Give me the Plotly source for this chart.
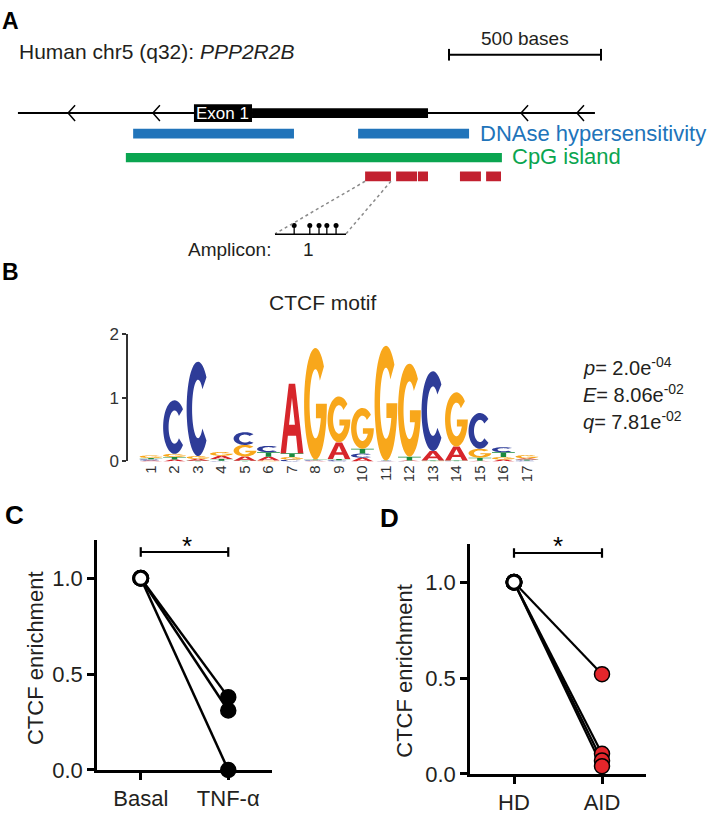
import numpy as np
import plotly.graph_objects as go

W, H = 707, 818
FONT = "Liberation Sans, Arial, Helvetica, sans-serif"
TXT = "#231f20"

# ---------------- Panel A: PPP2R2B locus (positions in bases) ----------------
BP_PER_PX = 500 / 152.0
gene_span = [59, 1957]
exon1_span = [638, 829]
utr_span = [829, 1408]
strand_arrows = [224, 503, 1714, 1898]
dnase_regions = [[438, 967], [1178, 1543]]
cpg_island = [414, 1651]
amplicon_regions = [[1201, 1286], [1303, 1372], [1375, 1408], [1513, 1582], [1599, 1648]]
scale_bar = [1477, 1977]
scale_label = "500 bases"
amplicon1_cpg = [0.27, 0.49, 0.62, 0.73, 0.86]  # CpG sites, fraction along amplicon 1

# ---------------- Panel B: CTCF motif logo (bits) ----------------
motif_positions = list(range(1, 18))
bits_A = [0.015, 0.03, 0.03, 0.05, 0.07, 0.06, 1.09, 0.01, 0.26, 0.06, 0.005, 0.01, 0.15, 0.22, 0.01, 0.03, 0.02]
bits_C = [0.02, 0.84, 1.48, 0.01, 0.20, 0.10, 0.03, 0.01, 0.02, 0.065, 0.005, 0.005, 1.25, 0.005, 0.56, 0.08, 0.015]
bits_G = [0.04, 0.05, 0.045, 0.06, 0.18, 0.015, 0.04, 1.75, 0.72, 0.64, 1.80, 1.46, 0.005, 0.85, 0.14, 0.04, 0.05]
bits_T = [0.02, 0.04, 0.01, 0.03, 0.01, 0.07, 0.06, 0.01, 0.02, 0.075, 0.005, 0.06, 0.01, 0.01, 0.05, 0.075, 0.015]
motif_stats = [("p", "2.0", "-04"), ("E", "8.06", "-02"), ("q", "7.81", "-02")]
letter_colors = {"A": "#d7262b", "C": "#2e3c98", "G": "#f8a71b", "T": "#1a8a3e"}

# ---------------- Panels C and D: CTCF enrichment ----------------
groups_C = ["Basal", "TNF-\u03b1"]
basal_C = [1.0, 1.0, 1.0]
tnf_C = [0.38, 0.31, 0.0]
groups_D = ["HD", "AID"]
hd_D = [1.0, 1.0, 1.0, 1.0]
aid_D = [0.52, 0.105, 0.07, 0.04]
yticks = [0.0, 0.5, 1.0]


def px(x):
    return x / W


def py(y):
    return 1 - y / H


fig = go.Figure()
shapes = []
annotations = []


def ann(text, x, y, size, color=TXT, xanchor="center", yanchor="middle", angle=0):
    annotations.append(dict(text=text, x=px(x), y=py(y), xref="paper", yref="paper",
                            showarrow=False, xanchor=xanchor, yanchor=yanchor, textangle=angle,
                            font=dict(family=FONT, size=size, color=color)))


# ---- Panel A drawing (x3: bases, y3: pixel rows) ----
def rect3(x0, x1, y0, y1, color):
    shapes.append(dict(type="rect", xref="x3", yref="y3", x0=x0, x1=x1, y0=y0, y1=y1,
                       fillcolor=color, line=dict(width=0), layer="above"))


def line3(x0, y0, x1, y1, color="black", width=2, dash="solid"):
    shapes.append(dict(type="line", xref="x3", yref="y3", x0=x0, y0=y0, x1=x1, y1=y1,
                       line=dict(color=color, width=width, dash=dash), layer="above"))


line3(gene_span[0], 107, gene_span[1], 107, width=2)
chev = 7 * BP_PER_PX
for a in strand_arrows:
    shapes.append(dict(type="path", xref="x3", yref="y3",
                       path=f"M{a + chev},{99} L{a},{107} L{a + chev},{115}",
                       line=dict(color="black", width=1.5), layer="above"))
rect3(utr_span[0], utr_span[1], 102, 112, "black")
rect3(exon1_span[0], exon1_span[1], 98, 116, "black")
for r in dnase_regions:
    rect3(r[0], r[1], 123, 133, "#2174ba")
rect3(cpg_island[0], cpg_island[1], 148, 157.5, "#0aa550")
for r in amplicon_regions:
    rect3(r[0], r[1], 167, 177, "#c2202f")

inset = [275 * BP_PER_PX, 346 * BP_PER_PX]
line3(amplicon_regions[0][0], 177, inset[0], 231, color="#8a8a8a", width=1.5, dash="dot")
line3(amplicon_regions[0][1], 177, inset[1], 231, color="#8a8a8a", width=1.5, dash="dot")
line3(inset[0], 231.5, inset[1], 231.5, width=1.5)
cpg_x = [inset[0] + f * (inset[1] - inset[0]) for f in amplicon1_cpg]
for cx in cpg_x:
    line3(cx, 231.5, cx, 223, width=1.3)
fig.add_trace(go.Scatter(x=cpg_x, y=[222.5] * len(cpg_x), mode="markers", xaxis="x3", yaxis="y3",
                         marker=dict(size=5, color="black"), showlegend=False, hoverinfo="skip",
                         cliponaxis=False))

# scale bar
line3(scale_bar[0], 47, scale_bar[1], 47, width=2)
line3(scale_bar[0], 41, scale_bar[0], 53, width=2)
line3(scale_bar[1], 41, scale_bar[1], 53, width=2)

ann("<b>A</b>", 10, 12, 23, color="black")
ann("Human chr5 (q32): <i>PPP2R2B</i>", 17, 44, 21, xanchor="left")
ann(scale_label, 525, 30, 19)
ann("Exon 1", (exon1_span[0] + exon1_span[1]) / 2 / BP_PER_PX, 107, 17, color="white")
ann("DNAse hypersensitivity", 478, 128, 22, color="#2174ba", xanchor="left")
ann("CpG island", 510, 152, 22, color="#0aa550", xanchor="left")
ann("Amplicon:", 186, 247, 19, xanchor="left")
ann("1", 308, 247, 19)

# ---- Panel B: sequence logo built from letter glyphs ----
def arc(rx, ry, a0, a1, n=48):
    t = np.radians(np.linspace(a0, a1, n))
    return list(zip(0.5 + rx * np.cos(t), 0.5 + ry * np.sin(t)))


g_in = np.degrees(np.arcsin((0.37 - 0.5) / 0.31))
GLYPHS = {
    "A": [[(0, 0), (0.36, 1), (0.64, 1), (1, 0), (0.76, 0), (0.68, 0.25), (0.32, 0.25), (0.24, 0)],
          [(0.37, 0.41), (0.63, 0.41), (0.5, 0.8)]],
    "C": [arc(0.5, 0.5, 42, 318) + arc(0.26, 0.31, 318, 42)],
    "G": [arc(0.5, 0.5, 42, 360) + [(0.52, 0.5), (0.52, 0.37)] + arc(0.26, 0.31, g_in, -318)],
    "T": [[(0, 1), (1, 1), (1, 0.82), (0.62, 0.82), (0.62, 0), (0.38, 0), (0.38, 0.82), (0, 0.82)]],
}

letter_bits = {"A": bits_A, "C": bits_C, "G": bits_G, "T": bits_T}
for i, pos in enumerate(motif_positions):
    stack = sorted(((letter_bits[L][i], L) for L in "ACGT"))
    base = 0.0
    for h, L in stack:
        if h >= 0.004:
            x0, w = pos - 0.485, 0.97
            d = ""
            for poly in GLYPHS[L]:
                d += "M" + "L".join(f"{x0 + w * u:.4f},{base + h * v:.5f}" for u, v in poly) + "Z"
            shapes.append(dict(type="path", xref="x2", yref="y2", path=d, fillcolor=letter_colors[L],
                               fillrule="evenodd", line=dict(width=0), layer="above"))
        base += h

fig.add_trace(go.Scatter(x=[], y=[], xaxis="x2", yaxis="y2", showlegend=False))

ann("<b>B</b>", 10, 270, 23, color="black")
ann("CTCF motif", 322, 302, 21)
for k, (sym, val, ex) in enumerate(motif_stats):
    ann(f"<i>{sym}</i>= {val}e<sup>{ex}</sup>", 581, 367 + 28 * k, 20, xanchor="left")

# ---- Panels C and D ----
for v0, v1 in zip(basal_C, tnf_C):
    fig.add_trace(go.Scatter(x=[0, 1], y=[v0, v1], mode="lines", line=dict(color="black", width=2.5),
                             xaxis="x", yaxis="y", showlegend=False, cliponaxis=False))
fig.add_trace(go.Scatter(x=[1] * len(tnf_C), y=tnf_C, mode="markers", xaxis="x", yaxis="y",
                         marker=dict(size=15, color="black", line=dict(color="black", width=1.5)),
                         showlegend=False, cliponaxis=False))
fig.add_trace(go.Scatter(x=[0] * len(basal_C), y=basal_C, mode="markers", xaxis="x", yaxis="y",
                         marker=dict(size=14, color="white", line=dict(color="black", width=3)),
                         showlegend=False, cliponaxis=False))

for v0, v1 in zip(hd_D, aid_D):
    fig.add_trace(go.Scatter(x=[0, 1], y=[v0, v1], mode="lines", line=dict(color="black", width=2.2),
                             xaxis="x4", yaxis="y4", showlegend=False, cliponaxis=False))
fig.add_trace(go.Scatter(x=[1] * len(aid_D), y=aid_D, mode="markers", xaxis="x4", yaxis="y4",
                         marker=dict(size=15, color="#e3262b", line=dict(color="black", width=1.5)),
                         showlegend=False, cliponaxis=False))
fig.add_trace(go.Scatter(x=[0] * len(hd_D), y=hd_D, mode="markers", xaxis="x4", yaxis="y4",
                         marker=dict(size=14, color="white", line=dict(color="black", width=3)),
                         showlegend=False, cliponaxis=False))


def bracket(xref, yref, yb):
    for (x0, y0, x1, y1) in [(0, yb, 1, yb), (0, yb - 0.025, 0, yb + 0.025), (1, yb - 0.025, 1, yb + 0.025)]:
        shapes.append(dict(type="line", xref=xref, yref=yref, x0=x0, y0=y0, x1=x1, y1=y1,
                           line=dict(color="black", width=2.2), layer="above"))


bracket("x", "y", 1.137)
bracket("x4", "y4", 1.152)
ann("*", 187, 552, 26, color="black")
ann("*", 558, 552, 26, color="black")
ann("<b>C</b>", 14, 520, 26, color="black")
ann("<b>D</b>", 389, 523, 26, color="black")
ann("CTCF enrichment", 35, 667, 22, angle=-90)
ann("CTCF enrichment", 405, 680, 22, angle=-90)

axis_common = dict(showgrid=False, zeroline=False, showline=True, linecolor="black", linewidth=2.5,
                   ticks="outside", ticklen=7, tickwidth=2.5, tickcolor="black",
                   tickfont=dict(family=FONT, size=22, color=TXT))

fig.update_layout(
    width=W, height=H, margin=dict(l=0, r=0, t=0, b=0),
    paper_bgcolor="white", plot_bgcolor="rgba(0,0,0,0)",
    shapes=shapes, annotations=annotations, showlegend=False,
    xaxis=dict(domain=[px(97), px(272)], anchor="y", range=[-0.5, 1.5],
               tickvals=[0, 1], ticktext=groups_C, **axis_common),
    yaxis=dict(domain=[py(782), py(545.6)], anchor="x", range=[0, 1.2],
               tickvals=yticks, ticktext=[f"{v:.1f}" for v in yticks], **axis_common),
    xaxis4=dict(domain=[px(470), px(646)], anchor="y4", range=[-0.5, 1.5],
                tickvals=[0, 1], ticktext=groups_D, **axis_common),
    yaxis4=dict(domain=[py(786), py(549.6)], anchor="x4", range=[0, 1.2],
                tickvals=yticks, ticktext=[f"{v:.1f}" for v in yticks], **axis_common),
    xaxis2=dict(domain=[px(128), px(541)], anchor="y2", range=[0.02, 17.6], showgrid=False,
                zeroline=False, showline=False, ticks="", tickangle=-90,
                tickvals=motif_positions, ticktext=[str(p) for p in motif_positions],
                tickfont=dict(family=FONT, size=15, color="#333333")),
    yaxis2=dict(domain=[py(465), py(334)], anchor="x2", range=[0, 2], showgrid=False, zeroline=False,
                showline=True, linecolor="#333333", linewidth=1.5, ticks="outside", ticklen=4,
                tickwidth=1.5, tickcolor="#333333", tickvals=[0, 1, 2],
                tickfont=dict(family=FONT, size=17, color="#333333")),
    xaxis3=dict(domain=[0, 1], anchor="y3", range=[0, W * BP_PER_PX], visible=False),
    yaxis3=dict(domain=[0, 1], anchor="x3", range=[H, 0], visible=False),
)

fig.write_html("out.html", config={"displayModeBar": False},
               post_script="document.body.style.margin='0px';")
